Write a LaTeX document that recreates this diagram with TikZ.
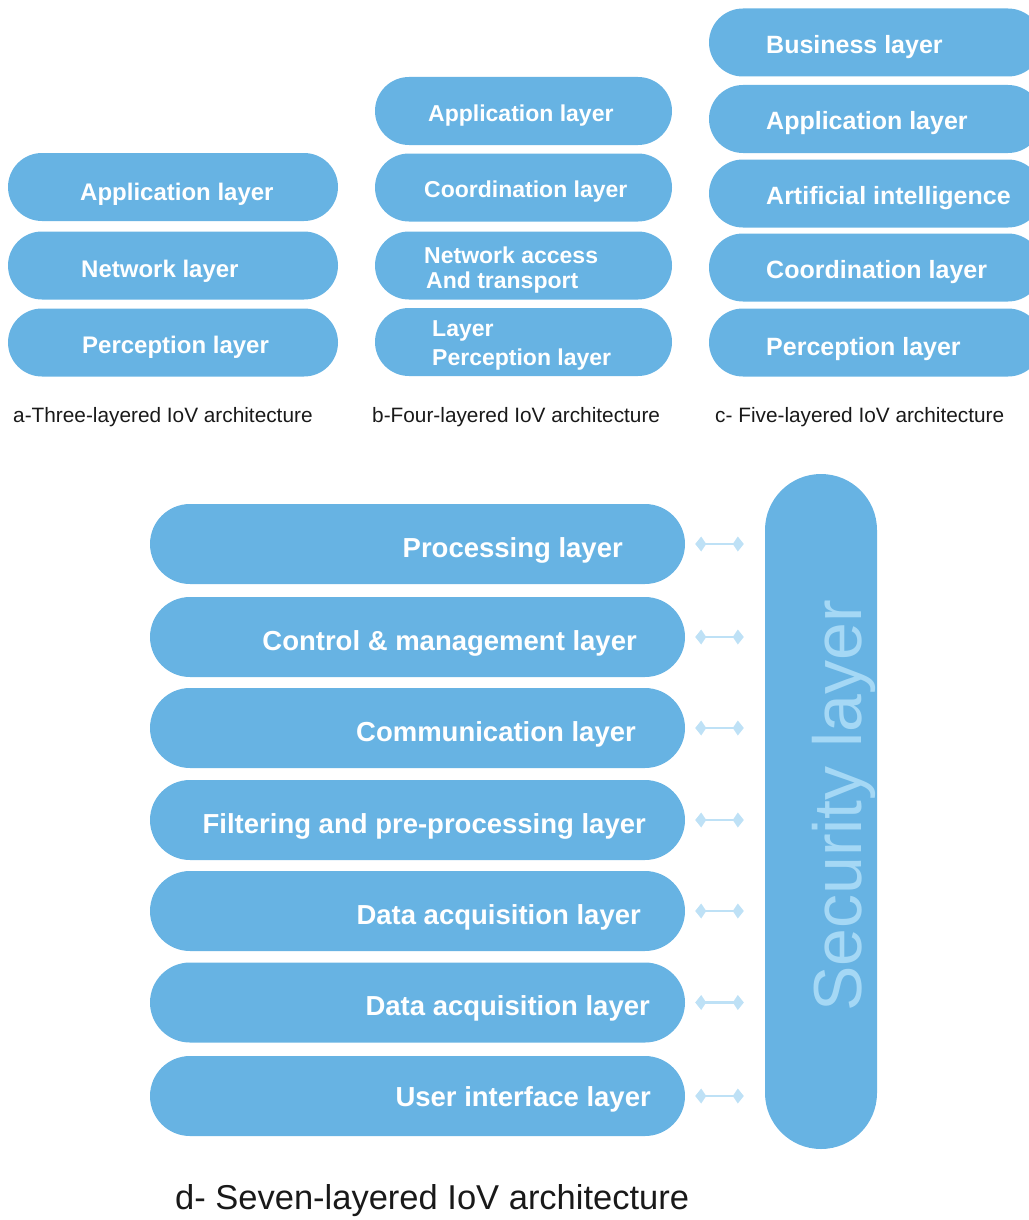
\documentclass[tikz,border=0pt]{standalone}
\usepackage{fontspec}
\setmainfont{Liberation Sans}
\usetikzlibrary{arrows.meta}
\definecolor{pillblue}{RGB}{103,179,227}
\definecolor{arrowblue}{RGB}{190,225,246}
\definecolor{secblue}{RGB}{165,216,245}
\definecolor{capgray}{RGB}{25,25,25}

\begin{document}
\begin{tikzpicture}[x=1pt, y=-1pt]
\tikzstyle{pill}=[draw=none, fill=pillblue, inner sep=0pt, minimum height=68pt, rounded corners=34pt]
\tikzstyle{bigpill}=[pill, minimum width=535pt, minimum height=80pt, rounded corners=40pt]
\tikzstyle{tx}=[text=white, inner sep=0pt, anchor=base west]
\tikzstyle{txa}=[tx, font=\fontsize{24}{28}\selectfont\bfseries]
\tikzstyle{txb}=[tx, font=\fontsize{23}{26}\selectfont\bfseries]
\tikzstyle{txc}=[tx, font=\fontsize{25}{29}\selectfont\bfseries]
\tikzstyle{txd}=[tx, anchor=base east, font=\fontsize{27.5}{32}\selectfont\bfseries]
\tikzstyle{captxt}=[text=capgray, inner sep=0pt, anchor=base west, font=\fontsize{20.8}{24}\selectfont]
\tikzstyle{link}=[{Kite[length=11pt,width=15pt,inset=5pt]}-{Kite[length=11pt,width=15pt,inset=5pt]}, draw=arrowblue, fill=arrowblue, line width=2.5pt, shorten <=10pt, shorten >=21pt]
\useasboundingbox (0,0) rectangle (1028,1220);

\node[pill, minimum width=330pt] (a1) at (173,187) {};
\node[pill, minimum width=330pt] (a2) at (173,265.5) {};
\node[pill, minimum width=330pt] (a3) at (173,342.5) {};
\node[txa] (ta1) at (80,200.5) {Application layer};
\node[txa] (ta2) at (81,277) {Network layer};
\node[txa] (ta3) at (82,353) {Perception layer};
\node[captxt] (capa) at (13,422) {a-Three-layered IoV architecture};

\node[pill, minimum width=297pt] (b1) at (523.5,111) {};
\node[pill, minimum width=297pt] (b2) at (523.5,187.5) {};
\node[pill, minimum width=297pt] (b3) at (523.5,265.5) {};
\node[pill, minimum width=297pt] (b4) at (523.5,342) {};
\node[txb] (tb1) at (428,122) {Application layer};
\node[txb] (tb2) at (424,197) {Coordination layer};
\node[txb] (tb3) at (424,263) {Network access};
\node[txb] (tb3b) at (426,288) {And transport};
\node[txb] (tb4) at (432,336) {Layer};
\node[txb] (tb4b) at (432,365) {Perception layer};
\node[captxt] (capb) at (372,422) {b-Four-layered IoV architecture};

\node[pill, minimum width=333pt] (c1) at (875.5,42.5) {};
\node[pill, minimum width=333pt] (c2) at (875.5,119) {};
\node[pill, minimum width=333pt] (c3) at (875.5,193.5) {};
\node[pill, minimum width=333pt] (c4) at (875.5,267.5) {};
\node[pill, minimum width=333pt] (c5) at (875.5,342.5) {};
\node[txc] (tc1) at (766,54) {Business layer};
\node[txc] (tc2) at (766,130) {Application layer};
\node[txc] (tc3) at (766,204) {Artificial intelligence};
\node[txc] (tc4) at (766,278) {Coordination layer};
\node[txc] (tc5) at (766,355) {Perception layer};
\node[captxt] (capc) at (715,422) {c- Five-layered IoV architecture};

\node[bigpill] (d1) at (417.5,544) {};
\node[bigpill] (d2) at (417.5,637) {};
\node[bigpill] (d3) at (417.5,728) {};
\node[bigpill] (d4) at (417.5,820) {};
\node[bigpill] (d5) at (417.5,911) {};
\node[bigpill] (d6) at (417.5,1002.5) {};
\node[bigpill] (d7) at (417.5,1096) {};
\node[txd] (td1) at (623,557) {Processing layer};
\node[txd] (td2) at (637,650) {Control \& management layer};
\node[txd] (td3) at (636,741) {Communication layer};
\node[txd] (td4) at (646,833) {Filtering and pre-processing layer};
\node[txd] (td5) at (641,924) {Data acquisition layer};
\node[txd] (td6) at (650,1015) {Data acquisition layer};
\node[txd] (td7) at (651,1106) {User interface layer};

\node[pill, minimum width=112pt, minimum height=675pt, rounded corners=56pt] (sec) at (821,811.5) {};
\node[text=secblue, inner sep=0pt, anchor=base west, rotate=90, font=\fontsize{68}{78}\selectfont] (tsec) at (861,1012) {Security layer};

\draw[link] (d1.east) -- (d1.east -| sec.west);
\draw[link] (d2.east) -- (d2.east -| sec.west);
\draw[link] (d3.east) -- (d3.east -| sec.west);
\draw[link] (d4.east) -- (d4.east -| sec.west);
\draw[link] (d5.east) -- (d5.east -| sec.west);
\draw[link] (d6.east) -- (d6.east -| sec.west);
\draw[link] (d7.east) -- (d7.east -| sec.west);

\node[captxt, font=\fontsize{34.5}{40}\selectfont] (capd) at (175,1209) {d- Seven-layered IoV architecture};
\end{tikzpicture}
\end{document}
